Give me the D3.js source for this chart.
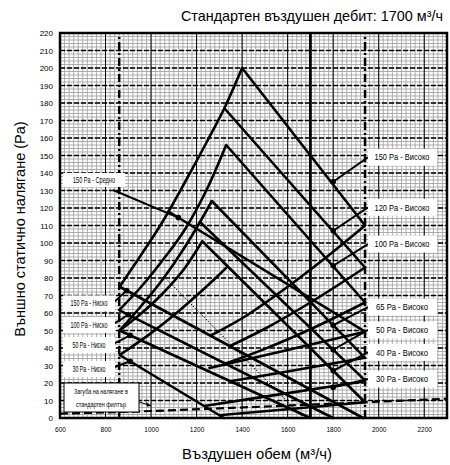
<!DOCTYPE html>
<html>
<head>
<meta charset="utf-8">
<script src="https://cdn.jsdelivr.net/npm/d3@7"></script>
<style>
  body { margin: 0; background: #fff; }
  text { font-family: "Liberation Sans", Arial, sans-serif; fill: #000; }
  .narrow { font-family: "Liberation Sans Narrow", "Liberation Sans", Arial, sans-serif; }
</style>
</head>
<body>
<div id="chart"></div>
<script>
var svgWidth = 450;
var svgHeight = 465;

var margin = { top: 33, right: 3, bottom: 47, left: 60 };
var width = 387;
var height = 385;

// axis ticks
var xTicks = [600, 800, 1000, 1200, 1400, 1600, 1800, 2000, 2200];
var yTicks = d3.range(0, 221, 10);

// rising curves (upper left edges)
var riseA = [[862, 75], [950, 92], [1050, 112], [1150, 135], [1250, 159], [1322, 177], [1400, 200]];
var riseB = [[862, 62], [950, 74], [1050, 90], [1150, 108], [1250, 132], [1330, 156]];
var riseC = [[862, 50], [950, 63], [1050, 79], [1150, 98], [1215, 112], [1267, 124]];
var riseD = [[862, 50], [950, 59], [1050, 71], [1150, 86], [1225, 101]];
var riseE = [[862, 36], [1000, 48.5], [1100, 58.7], [1200, 70], [1300, 82], [1335, 86.5]];

// high speed lines (upper right edges)
var high150 = [[1400, 200], [1940, 110]];
var high120 = [[1322, 177], [1940, 86]];
var high100 = [[1330, 156], [1940, 66]];
var high65 = [[1267, 124], [1940, 34.4]];
var high50 = [[1215, 112], [1940, 21.5]];
var high40 = [[1225, 101], [1940, 9]];
var mid150 = [[1076, 118], [1940, 49.3]];

// low speed lines
var low150 = [[862, 75], [1932, 0]];
var low100 = [[862, 61.5], [1800, 0]];
var low50 = [[862, 50], [1700, 0]];
var low30 = [[862, 36], [1320, 0]];

// lower right edges
var lower110 = [[1260, 47], [1400, 57], [1600, 75], [1800, 95], [1940, 110]];
var lower86 = [[1345, 41], [1500, 51], [1700, 66], [1940, 86]];
var lower66 = [[1325, 31], [1500, 39.5], [1700, 50.7], [1940, 66]];
var lower49 = [[1252, 28.4], [1600, 38.8], [1940, 49.3]];
var lower34 = [[1348, 21], [1600, 26.6], [1940, 34.4]];
var lower21 = [[1233, 6.9], [1500, 12.2], [1940, 21]];
var lower9 = [[1300, 1.6], [1600, 5], [1940, 9]];

// thin dotted line
var dotted = [[1055, 81], [1670, 0]];

// filter pressure loss
var filterLoss = [[600, 2.5], [1000, 4], [1300, 5.5], [1940, 9], [2300, 11]];

// markers and labels
var highLabels = ["150 Pa - Високо", "120 Pa - Високо", "100 Pa - Високо", "65 Pa - Високо", "50 Pa - Високо", "40 Pa - Високо", "30 Pa - Високо"];
var highDots = [[1800, 135], [1800, 107], [1800, 87], [1800, 53], [1800, 39], [1800, 27], [1800, 17.5]];
var highLabelP = [149, 120.4, 99.4, 63.4, 50.3, 37.5, 22.3];

var lowLabels = ["150 Pa - Ниско", "100 Pa - Ниско", "50 Pa - Ниско", "30 Pa - Ниско"];
var lowDots = [[893, 72.8], [900, 59], [908, 47.2], [908, 32.4]];
var lowLabelP = [65.5, 53.1, 41.7, 28];

var midLabel = "150 Pa - Средно";
var midDot = [1120, 114.5];
var midLabelP = [136];

var svg = d3.select("#chart")
  .append("svg")
  .attr("width", svgWidth)
  .attr("height", svgHeight);

var xScale = d3.scaleLinear().domain([600, 2300]).range([margin.left, margin.left + width]);
var yScale = d3.scaleLinear().domain([0, 220]).range([margin.top + height, margin.top]);

var plot = svg.append("g");

// minor grid
plot.selectAll("line.minorV")
  .data(d3.range(620, 2300, 20))
  .enter().append("line")
  .attr("x1", d => xScale(d)).attr("x2", d => xScale(d))
  .attr("y1", yScale(0)).attr("y2", yScale(220))
  .attr("stroke", "#a4a4a4").attr("stroke-width", 0.9);

plot.selectAll("line.minorH")
  .data(d3.range(2, 220, 2))
  .enter().append("line")
  .attr("y1", d => yScale(d)).attr("y2", d => yScale(d))
  .attr("x1", xScale(600)).attr("x2", xScale(2300))
  .attr("stroke", "#a4a4a4").attr("stroke-width", 0.9);

// major grid
plot.selectAll("line.majorH")
  .data(yTicks.slice(1, -1))
  .enter().append("line")
  .attr("y1", d => yScale(d)).attr("y2", d => yScale(d))
  .attr("x1", xScale(600)).attr("x2", xScale(2300))
  .attr("stroke", "#000").attr("stroke-width", 1.3)
  .attr("stroke-dasharray", "5,2");

plot.selectAll("line.majorV")
  .data(xTicks.slice(1))
  .enter().append("line")
  .attr("x1", d => xScale(d)).attr("x2", d => xScale(d))
  .attr("y1", yScale(0)).attr("y2", yScale(220))
  .attr("stroke", "#000").attr("stroke-width", 1);

// standard flow and limits
plot.append("line")
  .attr("x1", xScale(1700)).attr("x2", xScale(1700))
  .attr("y1", yScale(0)).attr("y2", yScale(220))
  .attr("stroke", "#000").attr("stroke-width", 2.8);

[860, 1940].forEach(function(v) {
  plot.append("line")
    .attr("x1", xScale(v)).attr("x2", xScale(v))
    .attr("y1", yScale(0)).attr("y2", yScale(220))
    .attr("stroke", "#000").attr("stroke-width", 2.5)
    .attr("stroke-dasharray", "8,3,2,3");
});

var line = d3.line().x(d => xScale(d[0])).y(d => yScale(d[1]));
var smooth = d3.line().x(d => xScale(d[0])).y(d => yScale(d[1])).curve(d3.curveMonotoneX);

var bentCurves = [riseA, riseB, riseC, riseD, riseE,
  lower110, lower86, lower66, lower49, lower34, lower21, lower9];
var straightLines = [high150, high120, high100, high65, high50, high40, mid150,
  low150, low100, low50, low30];

plot.selectAll("path.bent")
  .data(bentCurves)
  .enter().append("path")
  .attr("d", d => smooth(d))
  .attr("fill", "none")
  .attr("stroke", "#000")
  .attr("stroke-width", 2.6);

plot.selectAll("path.straight")
  .data(straightLines)
  .enter().append("path")
  .attr("d", d => line(d))
  .attr("fill", "none")
  .attr("stroke", "#000")
  .attr("stroke-width", 2.6)
  .attr("stroke-linecap", "round");

plot.append("path")
  .attr("d", line(dotted))
  .attr("fill", "none").attr("stroke", "#000")
  .attr("stroke-width", 1).attr("stroke-dasharray", "1.5,1.5");

plot.append("path")
  .attr("d", smooth(filterLoss))
  .attr("fill", "none").attr("stroke", "#000")
  .attr("stroke-width", 2.2).attr("stroke-dasharray", "8,4");

// right labels with leaders
highDots.forEach(function(d, i) {
  var ly = yScale(highLabelP[i]);
  plot.append("line")
    .attr("x1", xScale(d[0])).attr("y1", yScale(d[1]))
    .attr("x2", 368).attr("y2", ly)
    .attr("stroke", "#000").attr("stroke-width", 2);
  plot.append("circle")
    .attr("cx", xScale(d[0])).attr("cy", yScale(d[1])).attr("r", 2.8);
  plot.append("rect")
    .attr("x", 368).attr("y", ly - 8.5).attr("width", 69).attr("height", 17)
    .attr("fill", "#fff");
  plot.append("text")
    .attr("class", "narrow")
    .attr("x", 402).attr("y", ly + 3.2)
    .attr("text-anchor", "middle")
    .attr("font-size", 9)
    .attr("textLength", i < 3 ? 55 : 52).attr("lengthAdjust", "spacingAndGlyphs")
    .text(highLabels[i]);
});

// left labels with leaders
lowDots.forEach(function(d, i) {
  var ly = yScale(lowLabelP[i]);
  plot.append("line")
    .attr("x1", 115).attr("y1", ly - 2)
    .attr("x2", xScale(d[0])).attr("y2", yScale(d[1]))
    .attr("stroke", "#000").attr("stroke-width", 2);
  plot.append("circle")
    .attr("cx", xScale(d[0])).attr("cy", yScale(d[1])).attr("r", 2.8);
  plot.append("rect")
    .attr("x", 63).attr("y", ly - 8).attr("width", 52).attr("height", 16)
    .attr("fill", "#fff");
  plot.append("text")
    .attr("class", "narrow")
    .attr("x", 89).attr("y", ly + 3)
    .attr("text-anchor", "middle")
    .attr("font-size", 8.5)
    .attr("textLength", i < 2 ? 37 : 33).attr("lengthAdjust", "spacingAndGlyphs")
    .text(lowLabels[i]);
});

// medium label
var my = yScale(midLabelP[0]);
plot.append("line")
  .attr("x1", 113).attr("y1", my + 10)
  .attr("x2", xScale(midDot[0])).attr("y2", yScale(midDot[1]))
  .attr("stroke", "#000").attr("stroke-width", 2);
plot.append("circle")
  .attr("cx", xScale(midDot[0])).attr("cy", yScale(midDot[1])).attr("r", 2.8);
plot.append("rect")
  .attr("x", 63).attr("y", my - 7).attr("width", 62).attr("height", 14)
  .attr("fill", "#fff");
plot.append("text")
  .attr("class", "narrow")
  .attr("x", 94).attr("y", my + 3)
  .attr("text-anchor", "middle")
  .attr("font-size", 8.5)
  .attr("textLength", 42).attr("lengthAdjust", "spacingAndGlyphs")
  .text(midLabel);

// filter box
plot.append("line")
  .attr("x1", 133).attr("y1", 400)
  .attr("x2", xScale(1000)).attr("y2", yScale(7))
  .attr("stroke", "#000").attr("stroke-width", 1);
plot.append("path")
  .attr("d", "M" + xScale(1000) + "," + yScale(7) + " l-5,-4 l1,5 z")
  .attr("fill", "#000");
plot.append("rect")
  .attr("x", 64).attr("y", 383).attr("width", 75).attr("height", 29)
  .attr("fill", "#fff").attr("stroke", "#000").attr("stroke-width", 1);
["Загуба на налягане в", "стандартен филтър"].forEach(function(t, i) {
  plot.append("text")
    .attr("class", "narrow")
    .attr("x", 101).attr("y", 394 + i * 13)
    .attr("text-anchor", "middle")
    .attr("font-size", 7.5)
    .attr("textLength", i ? 50 : 54).attr("lengthAdjust", "spacingAndGlyphs")
    .text(t);
});

// frame
plot.append("rect")
  .attr("x", xScale(600)).attr("y", yScale(220))
  .attr("width", width).attr("height", height)
  .attr("fill", "none").attr("stroke", "#000").attr("stroke-width", 2.5);

// axes
var bottomAxis = d3.axisBottom(xScale).tickValues(xTicks).tickSize(0).tickPadding(9).tickFormat(d3.format("d"));
var leftAxis = d3.axisLeft(yScale).tickValues(yTicks).tickSize(0).tickPadding(7).tickFormat(d3.format("d"));

svg.append("g")
  .attr("transform", `translate(0, ${margin.top + height})`)
  .call(bottomAxis)
  .call(g => g.select(".domain").remove())
  .selectAll("text").attr("font-size", 6.5).attr("font-family", "Liberation Sans, Arial, sans-serif");

svg.append("g")
  .attr("transform", `translate(${margin.left}, 0)`)
  .call(leftAxis)
  .call(g => g.select(".domain").remove())
  .selectAll("text").attr("font-size", 8).attr("font-family", "Liberation Sans, Arial, sans-serif");

// titles
svg.append("text")
  .attr("x", 443).attr("y", 21)
  .attr("text-anchor", "end")
  .attr("font-size", 14.4)
  .text("Стандартен въздушен дебит: 1700 м³/ч");

svg.append("text")
  .attr("x", 257).attr("y", 459)
  .attr("text-anchor", "middle")
  .attr("font-size", 14.8)
  .text("Въздушен обем (м³/ч)");

svg.append("text")
  .attr("transform", "translate(25, 229) rotate(-90)")
  .attr("text-anchor", "middle")
  .attr("font-size", 14.5)
  .text("Външно статично налягане (Pa)");
</script>
</body>
</html>
